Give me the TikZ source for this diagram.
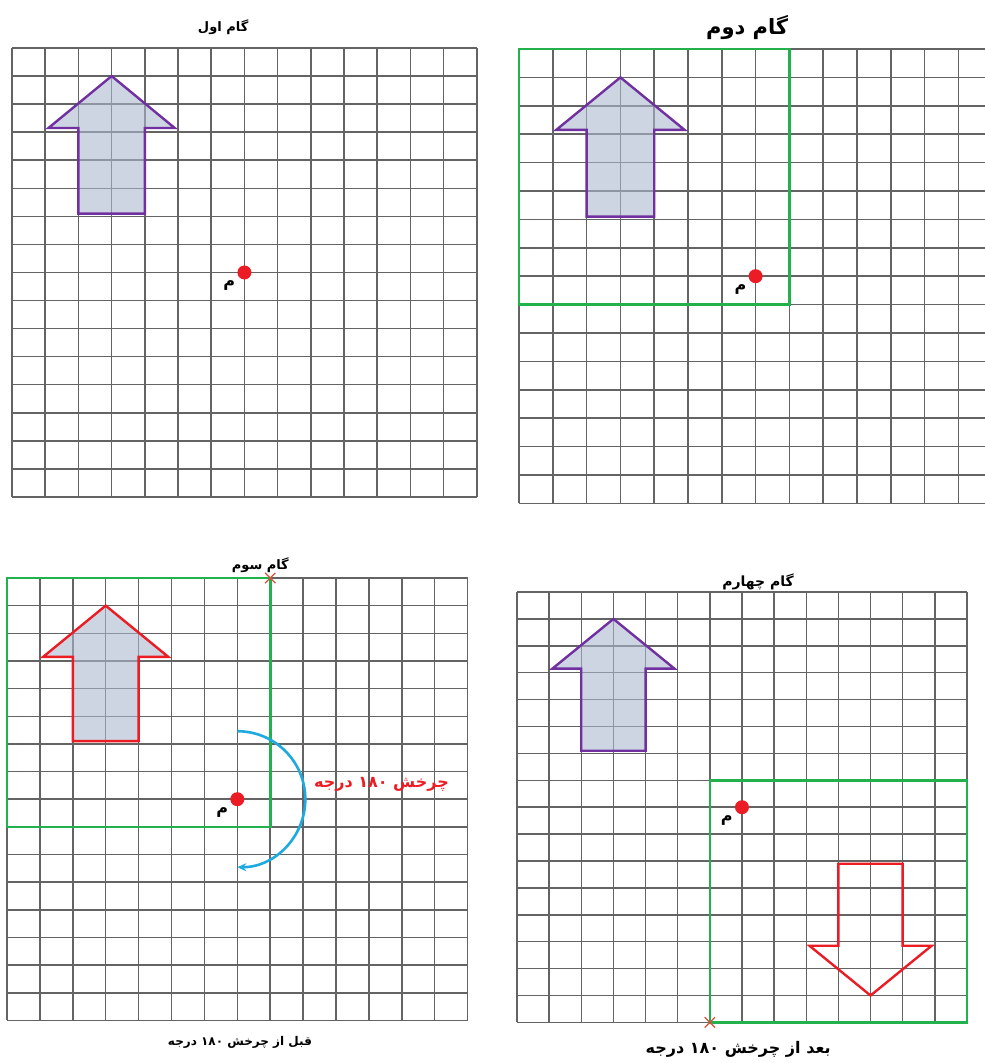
\documentclass[tikz,border=0pt]{standalone}
\usepackage{fontspec}
\usepackage{tikz}
\usetikzlibrary{positioning,shapes.misc,arrows.meta}
\newfontfamily\arabicfont[Script=Arabic]{DejaVu Sans}
\TeXXeTstate=1
\definecolor{gridgray}{RGB}{100,100,100}
\definecolor{framegreen}{RGB}{34,177,76}
\definecolor{shapepurple}{RGB}{112,48,160}
\definecolor{shapefill}{RGB}{172,184,206}
\definecolor{turnblue}{RGB}{30,170,225}
\definecolor{markred}{RGB}{236,28,36}
\definecolor{crossred}{RGB}{214,80,60}

% arrow shape on the grid, in cell units
\newcommand{\arrowpath}{(3,1) -- (4.9,2.85) -- (4,2.85) -- (4,5.9) -- (2,5.9) -- (2,2.85) -- (1.1,2.85) -- cycle}
\newcommand{\cellgrid}{%
  \foreach \i in {0,...,14} \draw[gridline] (\i,0) -- (\i,16);
  \foreach \j in {0,...,16} \draw[gridline] (0,\j) -- (14,\j);}

\begin{document}
\begin{tikzpicture}[x=1pt, y=-1pt,
    gridline/.style={draw=gridgray, line width=1.5pt},
    greenframe/.style={draw=framegreen, line width=2.6pt},
    shapearrow/.style={draw=shapepurple, line width=2.4pt, fill=shapefill, fill opacity=0.6},
    redarrow/.style={draw=markred, line width=2.4pt},
    centredot/.style={circle, fill=markred, inner sep=0pt, minimum size=14pt},
    centrelabel/.style={font=\fontsize{16}{18}\selectfont\arabicfont\bfseries, inner sep=0pt},
    steptitle/.style={font=\fontsize{13}{15}\selectfont\arabicfont\bfseries, inner sep=1pt},
    crossmark/.style={cross out, draw=crossred, line width=1.3pt, minimum size=9pt, inner sep=0pt},
    turnarrow/.style={draw=turnblue, line width=2.6pt, -{Stealth[length=9pt, width=8pt]}}]
    \useasboundingbox (0,0) rectangle (985,1063);
    \clip (0,0) rectangle (985,1063);

    % step one
    \begin{scope}[shift={(12,48)}, x=33.2pt, y=-28.06pt]
        \cellgrid
        \draw[shapearrow] \arrowpath;
        \node[centredot] (DOT1) at (7,8) {};
        \node[centrelabel, below left=3pt and 4pt of DOT1] (LBL1) {م};
        \node[steptitle] (TITLE1) at (6.36,-0.75) {\beginR گام اول\endR};
    \end{scope}

    % step two
    \begin{scope}[shift={(519,49)}, x=33.8pt, y=-28.4pt]
        \cellgrid
        \draw[shapearrow] \arrowpath;
        \draw[greenframe] (0,0) rectangle (8,9);
        \node[centredot] (DOT2) at (7,8) {};
        \node[centrelabel, below left=3pt and 4pt of DOT2] (LBL2) {م};
        \node[steptitle, font=\fontsize{21}{23}\selectfont\arabicfont\bfseries] (TITLE2) at (6.75,-0.74) {\beginR گام دوم\endR};
    \end{scope}

    % step three
    \begin{scope}[shift={(7,578)}, x=32.9pt, y=-27.65pt]
        \cellgrid
        \draw[shapearrow, draw=markred] \arrowpath;
        \draw[greenframe] (0,0) rectangle (8,9);
        \node[crossmark] (CROSS3) at (8,0) {};
        \node[centredot] (DOT3) at (7,8) {};
        \node[centrelabel, below left=3pt and 4pt of DOT3] (LBL3) {م};
        \draw[turnarrow] ([yshift=68pt]DOT3.center) arc[start angle=90, end angle=-90, radius=68pt];
        \node[steptitle, text=markred, anchor=west, font=\fontsize{16}{18}\selectfont\arabicfont\bfseries] (TURN3) at (9.3,7.45) {\beginR چرخش ۱۸۰ درجه\endR};
        \node[steptitle] (TITLE3) at (7.7,-0.47) {\beginR گام سوم\endR};
        \node[steptitle, font=\fontsize{12}{14}\selectfont\arabicfont\bfseries] (CAP3) at (7.08,16.78) {\beginR قبل از چرخش ۱۸۰ درجه\endR};
    \end{scope}

    % step four
    \begin{scope}[shift={(517,592)}, x=32.14pt, y=-26.9pt]
        \cellgrid
        \draw[shapearrow] \arrowpath;
        \draw[redarrow, rotate around={180:(7,8)}] \arrowpath;
        \draw[greenframe] (6,7) rectangle (14,16);
        \node[crossmark] (CROSS4) at (6,16) {};
        \node[centredot] (DOT4) at (7,8) {};
        \node[centrelabel, below left=3pt and 4pt of DOT4] (LBL4) {م};
        \node[steptitle, font=\fontsize{14}{16}\selectfont\arabicfont\bfseries] (TITLE4) at (7.5,-0.38) {\beginR گام چهارم\endR};
        \node[steptitle, font=\fontsize{16}{18}\selectfont\arabicfont\bfseries] (CAP4) at (6.88,17.0) {\beginR بعد از چرخش ۱۸۰ درجه\endR};
    \end{scope}
\end{tikzpicture}
\end{document}
